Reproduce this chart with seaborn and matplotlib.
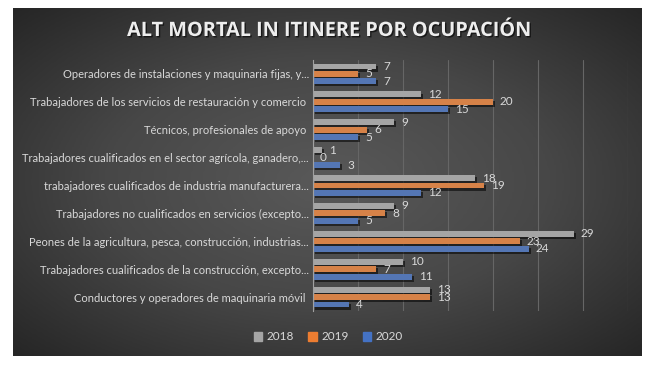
import numpy as np
import pandas as pd
import matplotlib
matplotlib.use("Agg")
import matplotlib.pyplot as plt
import matplotlib.patheffects as pe
import seaborn as sns

categories = [
    "Operadores de instalaciones y maquinaria fijas, y...",
    "Trabajadores de los servicios de restauración y comercio ",
    "Técnicos, profesionales de apoyo ",
    "Trabajadores cualificados en el sector agrícola, ganadero,...",
    "trabajadores cualificados de industria manufacturera...",
    "Trabajadores no cualificados en servicios (excepto...",
    "Peones de la agricultura, pesca, construcción, industrias...",
    "Trabajadores cualificados de la construcción, excepto...",
    "Conductores y operadores de maquinaria móvil ",
]
years = ["2018", "2019", "2020"]
v2018 = [7, 12, 9, 1, 18, 9, 29, 10, 13]
v2019 = [5, 20, 6, 0, 19, 8, 23, 7, 13]
v2020 = [7, 15, 5, 3, 12, 5, 24, 11, 4]
colors = ["#A5A5A5", "#ED7D31", "#4472C4"]

df = pd.DataFrame({
    "cat": categories * 3,
    "year": [y for y in years for _ in categories],
    "val": v2018 + v2019 + v2020,
})

sns.set_style("white")
plt.rcParams["font.family"] = ["Lato", "DejaVu Sans"]
txt = "#D9D9D9"

fig = plt.figure(figsize=(6.57, 3.68), dpi=100)
fig.patch.set_facecolor("white")

# dark panel with radial gradient
bg = fig.add_axes([13 / 657, 1 - 356 / 368, 629 / 657, 348 / 368])
yy, xx = np.mgrid[-1:1:200j, -1:1:300j]
r = np.sqrt(xx ** 2 + yy ** 2) / np.sqrt(2)
bg.imshow(r, cmap=matplotlib.colors.LinearSegmentedColormap.from_list(
    "g", ["#595959", "#474747", "#262626"]), aspect="auto", extent=[0, 1, 0, 1])
bg.set_axis_off()

ax = fig.add_axes([313 / 657, 1 - 311 / 368, 315 / 657, 251 / 368])
ax.set_facecolor("none")
sns.barplot(data=df, y="cat", x="val", hue="year", orient="h",
            palette=colors, width=0.8, gap=0.2, ax=ax, legend=False,
            linewidth=0, edgecolor="none")

shadow = [pe.SimplePatchShadow(offset=(1.5, -1.5), shadow_rgbFace="black", alpha=0.55), pe.Normal()]
for c in ax.containers:
    for p in c:
        p.set_path_effects(shadow)
    ax.bar_label(c, padding=5, color=txt, fontsize=8.5)

ax.set_xlim(0, 35)
ax.set_xticks(range(0, 36, 5))
ax.set_xticklabels([])
ax.tick_params(axis="x", length=0)
ax.tick_params(axis="y", length=0, colors=txt, labelsize=8, pad=3)
ax.grid(axis="x", color="#666666", linewidth=0.8)
ax.set_axisbelow(True)
for s in ["top", "right", "bottom"]:
    ax.spines[s].set_visible(False)
ax.spines["left"].set_color("#A0A0A0")
ax.set_xlabel("")
ax.set_ylabel("")

handles = [plt.Rectangle((0, 0), 1, 1, color=c) for c in colors]
fig.legend(handles, years, loc="center", bbox_to_anchor=(0.5, 1 - 337 / 368), ncol=3,
           frameon=False, fontsize=8.5, labelcolor=txt, handlelength=0.7,
           handleheight=0.7, handletextpad=0.4, columnspacing=1.2)

fig.text(0.5, 1 - 31 / 368, "ALT MORTAL IN ITINERE POR OCUPACIÓN", ha="center", va="center",
         color="#EEEEEE", fontsize=14.3, fontweight="bold", family=["Open Sans", "DejaVu Sans"],
         path_effects=[pe.withSimplePatchShadow(offset=(1, -1), shadow_rgbFace="black", alpha=0.6)])

fig.savefig("out.png", dpi=100, facecolor="white")
